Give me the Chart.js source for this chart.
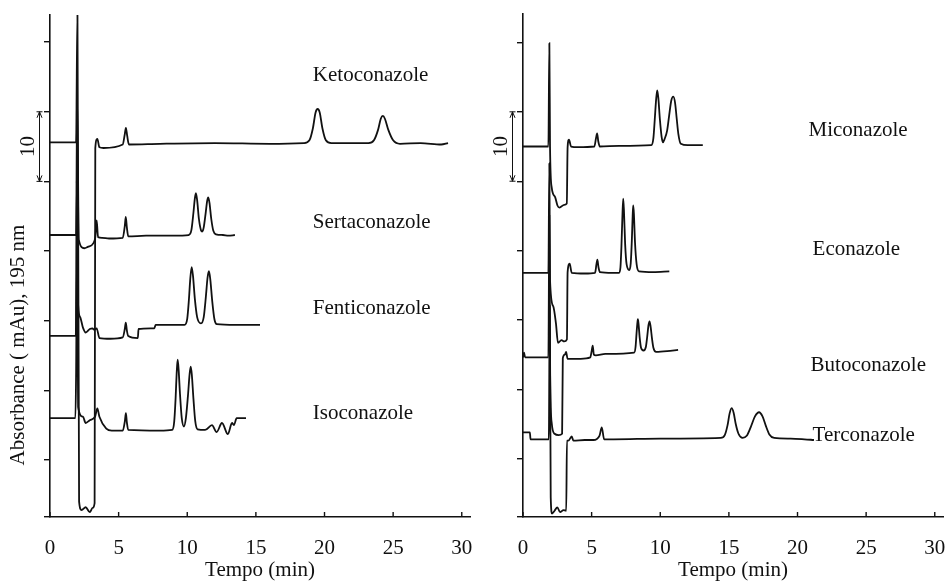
<!DOCTYPE html>
<html>
<head>
<meta charset="utf-8">
<script src="https://cdn.jsdelivr.net/npm/chart.js@4.4.0/dist/chart.umd.min.js"></script>
<style>
  body { margin: 0; background: #fff; }
  #wrap { position: relative; width: 945px; height: 581px; }
  .box { position: absolute; top: 0; height: 581px; }
  canvas { display: block; }
</style>
</head>
<body>
<div id="wrap">
  <div class="box" style="left:0;width:472px"><canvas id="chartLeft" width="472" height="581"></canvas></div>
  <div class="box" style="left:472px;width:473px"><canvas id="chartRight" width="473" height="581"></canvas></div>
</div>
<script>
// time axis + absorbance ticks (one tick = 10 mAu)
const xTicks = [0, 5, 10, 15, 20, 25, 30];
const yTicks = [0, 10, 20, 30, 40, 50, 60];

// left panel traces (time in min, absorbance offset per trace)
const ketoT = [0, 1.9, 2.0, 2.12, 2.3, 2.6, 2.9, 3.1, 3.25, 3.3, 3.45, 3.6, 3.9, 5.3, 5.45, 5.53, 5.62, 5.75, 8, 12, 16, 18.5, 18.9, 19.15, 19.35, 19.5, 19.65, 19.85, 20.1, 20.5, 22, 23.2, 23.6, 23.9, 24.1, 24.25, 24.4, 24.65, 25.0, 25.5, 27, 28.5, 29.0];
const ketoA = [45.6, 45.6, 64.5, -6.0, -7.2, -6.8, -7.5, -6.9, -6.2, 44.8, 46.1, 44.9, 44.8, 45.3, 46.8, 47.7, 46.6, 45.3, 45.4, 45.5, 45.4, 45.5, 45.9, 47.6, 49.9, 50.4, 49.9, 47.6, 45.9, 45.5, 45.5, 45.5, 45.9, 47.4, 49.0, 49.4, 49.0, 47.4, 45.9, 45.4, 45.5, 45.3, 45.5];

const sertT = [0, 1.9, 1.98, 2.1, 2.5, 2.75, 3.15, 3.3, 3.4, 3.5, 3.8, 4.3, 5.3, 5.45, 5.52, 5.6, 5.7, 7, 9, 10.1, 10.3, 10.45, 10.55, 10.63, 10.72, 10.85, 11.0, 11.09, 11.2, 11.35, 11.45, 11.53, 11.62, 11.75, 11.9, 12.1, 12.6, 13.0, 13.47];
const sertA = [32.3, 32.3, 52, 31.6, 30.4, 30.6, 31.1, 32.0, 34.4, 32.0, 31.9, 31.8, 31.9, 33.6, 34.9, 33.4, 32.1, 32.2, 32.2, 32.3, 33.0, 35.5, 37.5, 38.3, 37.3, 34.6, 33.0, 32.8, 33.4, 35.6, 37.2, 37.7, 36.9, 34.6, 32.9, 32.4, 32.3, 32.2, 32.3];

const fentT = [0, 1.88, 1.95, 2.05, 2.2, 2.4, 2.6, 2.9, 3.1, 3.2, 3.4, 3.6, 4.4, 5.3, 5.45, 5.52, 5.6, 5.7, 6.4, 6.45, 7.6, 7.7, 9.8, 10.0, 10.12, 10.22, 10.32, 10.42, 10.55, 10.72, 11.0, 11.2, 11.35, 11.48, 11.58, 11.68, 11.82, 11.98, 12.15, 13.5, 15.3];
const fentA = [17.8, 17.8, 40, 22.2, 20.5, 19.0, 18.3, 18.8, 18.9, 18.7, 18.9, 17.5, 17.4, 17.6, 18.8, 19.7, 18.6, 17.8, 17.5, 18.8, 18.9, 19.4, 19.4, 20.3, 23.0, 26.0, 27.7, 26.4, 23.2, 20.5, 19.6, 20.5, 23.3, 26.2, 27.1, 25.9, 22.8, 20.2, 19.5, 19.4, 19.4];

const isoT = [0, 1.85, 1.9, 1.97, 2.05, 2.4, 2.6, 2.9, 3.28, 3.45, 3.6, 4.1, 4.5, 5.3, 5.45, 5.53, 5.6, 5.7, 8.0, 8.9, 9.05, 9.15, 9.23, 9.3, 9.37, 9.47, 9.6, 9.76, 9.9, 10.05, 10.17, 10.25, 10.33, 10.45, 10.58, 10.75, 11.3, 11.8, 12.14, 12.53, 12.96, 13.26, 13.4, 13.6, 14.28];
const isoA = [6.0, 6.0, 12, 30, 7.6, 6.2, 5.3, 5.7, 6.2, 7.4, 6.2, 4.5, 4.2, 4.2, 5.5, 6.7, 5.4, 4.3, 4.2, 4.3, 5.5, 8.8, 12.5, 14.4, 13.0, 9.5, 6.0, 4.8, 6.0, 9.2, 12.3, 13.4, 12.3, 8.8, 5.6, 4.4, 4.3, 5.0, 4.0, 5.3, 3.7, 5.3, 5.0, 6.0, 6.0];

// right panel traces
const micoT = [0, 1.85, 1.92, 1.97, 2.09, 2.34, 2.51, 2.66, 3.0, 3.19, 3.25, 3.35, 3.5, 4.0, 5.2, 5.32, 5.4, 5.48, 5.6, 7.0, 9.35, 9.5, 9.6, 9.7, 9.78, 9.86, 9.97, 10.1, 10.2, 10.3, 10.5, 10.65, 10.8, 10.95, 11.08, 11.2, 11.32, 11.5, 12.0, 13.1];
const micoA = [45.0, 45.0, 59.9, 44.9, 39.1, 37.7, 36.5, 36.2, 36.6, 36.8, 44.9, 46.0, 45.0, 44.9, 45.0, 46.2, 46.9, 45.8, 45.0, 45.1, 45.2, 46.2, 48.9, 51.8, 53.1, 52.0, 49.0, 46.4, 45.6, 46.0, 47.3, 49.5, 51.6, 52.2, 51.3, 49.0, 46.8, 45.4, 45.2, 45.2];

const econT = [0, 1.85, 1.92, 1.97, 2.2, 2.4, 2.55, 2.8, 3.0, 3.2, 3.25, 3.4, 3.55, 4.5, 5.25, 5.35, 5.42, 5.5, 5.6, 6.5, 7.0, 7.1, 7.17, 7.24, 7.3, 7.36, 7.44, 7.55, 7.74, 7.85, 7.93, 7.99, 8.03, 8.08, 8.16, 8.28, 8.45, 9.5, 10.66];
const econA = [26.8, 26.8, 42.6, 25.7, 22.0, 19.5, 16.7, 17.1, 16.9, 17.2, 26.9, 28.1, 26.8, 26.7, 26.8, 28.0, 28.7, 27.6, 26.9, 26.8, 26.8, 27.6, 30.5, 34.8, 37.5, 35.5, 31.0, 28.0, 27.2, 28.2, 31.5, 35.0, 36.5, 35.3, 31.2, 28.0, 27.0, 26.9, 27.0];

const butoT = [0, 0.08, 0.15, 1.85, 1.92, 1.98, 2.1, 2.3, 2.6, 2.85, 2.9, 3.05, 3.14, 3.25, 4.2, 4.9, 5.0, 5.08, 5.16, 5.3, 6.0, 8.1, 8.2, 8.27, 8.33, 8.37, 8.42, 8.5, 8.6, 8.78, 8.95, 9.05, 9.14, 9.22, 9.3, 9.4, 9.5, 9.7, 10.5, 11.3];
const butoA = [14.6, 15.3, 14.6, 14.6, 35, 12.0, 5.0, 3.6, 3.4, 3.6, 14.5, 15.0, 15.4, 14.4, 14.4, 14.6, 15.5, 16.3, 15.0, 14.9, 15.1, 15.3, 16.1, 18.0, 19.5, 20.1, 19.4, 17.5, 16.0, 15.6, 16.1, 17.6, 19.2, 19.8, 19.0, 17.3, 16.0, 15.4, 15.5, 15.7];

const tercT = [0, 0.5, 0.55, 1.88, 1.95, 2.02, 2.12, 2.3, 2.5, 2.7, 2.95, 3.15, 3.2, 3.3, 3.55, 3.67, 4.5, 5.13, 5.57, 5.74, 5.91, 6.6, 10, 14.4, 14.7, 14.9, 15.05, 15.2, 15.35, 15.5, 15.7, 16.0, 16.3, 16.6, 16.9, 17.2, 17.45, 17.7, 17.95, 18.3, 19.5, 20.5, 21.2];
const tercA = [3.8, 3.8, 2.8, 2.8, 22, -5.6, -7.9, -7.5, -7.0, -7.7, -7.4, -7.5, 2.6, 2.6, 3.2, 2.6, 2.7, 2.7, 3.3, 4.5, 2.8, 2.8, 2.9, 3.0, 3.4, 4.8, 6.5, 7.3, 6.6, 5.0, 3.6, 3.0, 3.3, 4.6, 6.1, 6.7, 6.1, 4.7, 3.5, 3.0, 2.9, 2.8, 2.7];

const leftNames = ['Ketoconazole', 'Sertaconazole', 'Fenticonazole', 'Isoconazole'];
const rightNames = ['Miconazole', 'Econazole', 'Butoconazole', 'Terconazole'];

const serif = '"Liberation Serif", "Times New Roman", serif';
const ink = '#111';

function trace(t, a) {
  return {
    data: t.map((v, i) => ({ x: v, y: a[i] })),
    borderColor: ink,
    borderWidth: 1.8,
    pointRadius: 0,
    cubicInterpolationMode: 'monotone'
  };
}

// extra drawing: inward time ticks, 10 mAu scale bar, compound names, y title
const decor = {
  id: 'decor',
  afterDraw(chart, args, o) {
    const { ctx, chartArea: a } = chart;
    const x = chart.scales.x, y = chart.scales.y;
    ctx.save();
    ctx.strokeStyle = ink;
    ctx.fillStyle = ink;
    ctx.lineWidth = 1.4;

    ctx.beginPath();
    x.ticks.forEach(t => {
      const px = x.getPixelForValue(t.value);
      ctx.moveTo(px, a.bottom);
      ctx.lineTo(px, a.bottom - 5);
    });
    ctx.stroke();

    const bx = a.left - 10.5;
    const yTop = y.getPixelForValue(50), yBot = y.getPixelForValue(40);
    ctx.lineWidth = 1;
    ctx.beginPath();
    ctx.moveTo(bx, yTop); ctx.lineTo(bx, yBot);
    ctx.moveTo(bx - 3, yTop); ctx.lineTo(bx + 3, yTop);
    ctx.moveTo(bx - 3, yBot); ctx.lineTo(bx + 3, yBot);
    ctx.moveTo(bx - 2.5, yTop + 6); ctx.lineTo(bx, yTop); ctx.lineTo(bx + 2.5, yTop + 6);
    ctx.moveTo(bx - 2.5, yBot - 6); ctx.lineTo(bx, yBot); ctx.lineTo(bx + 2.5, yBot - 6);
    ctx.stroke();

    ctx.font = '21px ' + serif;
    ctx.save();
    ctx.translate(bx - 11, (yTop + yBot) / 2);
    ctx.rotate(-Math.PI / 2);
    ctx.textAlign = 'center';
    ctx.textBaseline = 'middle';
    ctx.fillText('10', 0, 0);
    ctx.restore();

    ctx.textAlign = 'left';
    ctx.textBaseline = 'middle';
    o.names.forEach((n, i) => {
      ctx.fillText(n, x.getPixelForValue(o.nameX[i]), y.getPixelForValue(o.nameY[i]));
    });

    if (o.yTitle) {
      ctx.save();
      ctx.translate(o.yTitle.x, o.yTitle.y);
      ctx.rotate(-Math.PI / 2);
      ctx.textAlign = 'center';
      ctx.fillText(o.yTitle.text, 0, 0);
      ctx.restore();
    }
    ctx.restore();
  }
};

function makeOptions(axisWidth, top, yMin, yMax, labels) {
  return {
    responsive: false,
    animation: false,
    layout: { padding: { top: top, right: 2, left: 0, bottom: 0 } },
    plugins: { legend: { display: false }, tooltip: { enabled: false }, decor: labels },
    scales: {
      x: {
        type: 'linear',
        min: 0,
        max: 30.6,
        afterBuildTicks: s => { s.ticks = xTicks.map(v => ({ value: v })); },
        afterFit: s => { s.height = 64; s.paddingLeft = 0; s.paddingRight = 0; },
        grid: { drawOnChartArea: false, drawTicks: false },
        border: { color: ink, width: 1.6 },
        ticks: { color: ink, font: { family: serif, size: 21 }, padding: 19, maxRotation: 0, autoSkip: false },
        title: { display: true, text: 'Tempo (min)', color: ink, font: { family: serif, size: 21, lineHeight: 1 }, padding: 0 }
      },
      y: {
        type: 'linear',
        min: yMin,
        max: yMax,
        afterBuildTicks: s => { s.ticks = [yMin].concat(yTicks).map(v => ({ value: v })); },
        afterFit: s => { s.width = axisWidth; s.paddingTop = 0; s.paddingBottom = 0; },
        grid: { drawOnChartArea: false, drawTicks: true, tickLength: 6, color: ink, lineWidth: 1.4 },
        border: { color: ink, width: 1.6 },
        ticks: { display: false }
      }
    }
  };
}

new Chart(document.getElementById('chartLeft'), {
  type: 'line',
  data: { datasets: [trace(ketoT, ketoA), trace(sertT, sertA), trace(fentT, fentA), trace(isoT, isoA)] },
  options: makeOptions(50, 15, -8.2, 63.9, {
    names: leftNames,
    nameX: [19.15, 19.15, 19.15, 19.15],
    nameY: [55.2, 34.1, 21.7, 6.7],
    yTitle: { text: 'Absorbance ( mAu), 195 nm', x: 18, y: 345 }
  }),
  plugins: [decor]
});

new Chart(document.getElementById('chartRight'), {
  type: 'line',
  data: { datasets: [trace(micoT, micoA), trace(econT, econA), trace(butoT, butoA), trace(tercT, tercA)] },
  options: makeOptions(51, 14, -8.4, 64.1, {
    names: rightNames,
    nameX: [20.8, 21.1, 20.95, 21.1],
    nameY: [47.3, 30.2, 13.4, 3.3]
  }),
  plugins: [decor]
});
</script>
</body>
</html>
